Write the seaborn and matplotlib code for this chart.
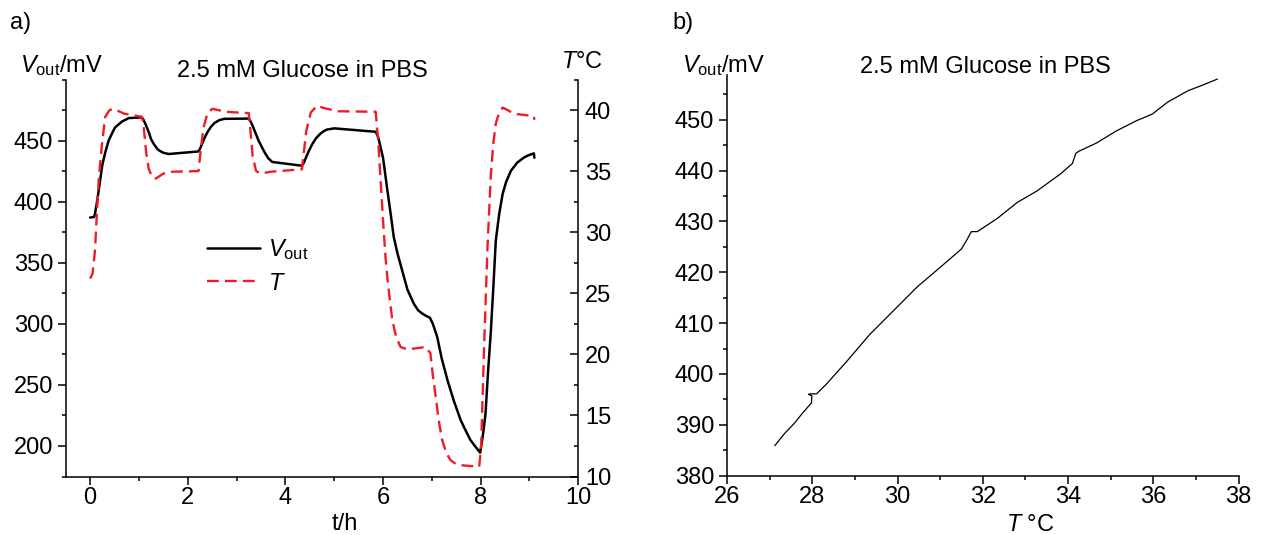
import matplotlib
matplotlib.use('Agg')
import matplotlib.pyplot as plt
from matplotlib.ticker import MultipleLocator
import pandas as pd
import seaborn as sns

# ---------------- data ----------------
# panel a, V_out over time
t_v = [0.0, 0.08, 0.1, 0.15, 0.2, 0.25, 0.31, 0.38, 0.45, 0.51, 0.65, 0.79, 1.06,
       1.1, 1.15, 1.2, 1.25, 1.3, 1.38, 1.43, 1.5, 1.61, 2.22, 2.26, 2.3, 2.36, 2.42, 2.48,
       2.55, 2.65, 2.75, 3.25, 3.29, 3.33, 3.39, 3.45, 3.52, 3.58, 3.65, 3.73, 4.34, 4.38,
       4.42, 4.48, 4.55, 4.62, 4.7, 4.78, 4.85, 5.0, 5.85, 5.9, 5.95, 6.0, 6.09, 6.15, 6.22,
       6.3, 6.43, 6.5, 6.63, 6.72, 6.8, 6.88, 6.96, 7.02, 7.11, 7.2, 7.32, 7.45, 7.59, 7.7,
       7.79, 7.9, 7.99, 8.05, 8.1, 8.15, 8.21, 8.26, 8.31, 8.38, 8.45, 8.52, 8.62, 8.75,
       8.89, 8.98, 9.09, 9.1]
v_out = [387, 387.5, 390, 402, 416, 430, 440.3, 450, 456, 460.7, 465.5, 468.4, 469,
         466.5, 462, 457, 451, 447.5, 443, 441.5, 440, 439, 441.1, 444, 448, 453.5, 458, 461.5,
         464.5, 466.8, 467.8, 468, 465.5, 462, 456, 450, 444.5, 440, 435.5, 432.5, 429.4, 432,
         436, 441.5, 447, 451.5, 455, 457.6, 459, 460, 457.2, 453, 444.4, 436, 409, 392, 371,
         357, 338.2, 328, 316.5, 311, 308.5, 306.5, 305, 300, 289.3, 272, 253.9, 237, 221.2, 212,
         204.9, 199, 194.5, 210, 226.7, 260, 294.7, 330, 368.2, 390, 406.3, 416, 425.3, 432,
         436.2, 438, 439.5, 436]

# panel a, temperature over time
t_T = [0.0, 0.05, 0.1, 0.14, 0.18, 0.24, 0.31, 0.4, 0.48, 0.7, 1.06, 1.1, 1.15, 1.2, 1.27,
       1.35, 1.5, 1.68, 2.22, 2.26, 2.32, 2.4, 2.5, 2.8, 3.25, 3.28, 3.33, 3.4, 3.5, 3.7,
       4.34, 4.37, 4.43, 4.52, 4.65, 4.8, 5.09, 5.85, 5.9, 5.95, 6.0, 6.05, 6.1, 6.19, 6.27,
       6.36, 6.5, 6.87, 6.97, 7.02, 7.08, 7.14, 7.21, 7.3, 7.38, 7.5, 7.66, 7.97, 8.01, 8.04,
       8.07, 8.14, 8.21, 8.26, 8.31, 8.38, 8.45, 8.55, 8.68, 9.09, 9.1]
temp = [26.2, 26.6, 28.5, 31.7, 34.5, 37.1, 39.45, 40.0, 40.1, 39.7, 39.45, 38.5, 36.5, 35.2,
        34.5, 34.4, 34.8, 34.95, 35.0, 36.5, 38.5, 39.7, 40.1, 39.85, 39.75, 38.5, 36.2, 35.0,
        34.8, 34.95, 35.15, 36.3, 38.3, 39.8, 40.35, 40.15, 39.9, 39.86, 37.5, 34.3, 31.0, 28.0,
        25.8, 22.8, 21.4, 20.6, 20.4, 20.6, 20.1, 18.3, 16.5, 14.6, 13.0, 11.9, 11.35, 11.0,
        10.9, 10.8, 12.45, 16.5, 20.6, 28.8, 34.8, 37.3, 38.9, 39.8, 40.2, 40.0, 39.7, 39.5,
        39.2]

# panel b, V_out against temperature
T_b = [27.12, 27.35, 27.58, 27.77, 27.98, 27.99, 27.91, 27.95, 28.1, 28.33, 28.8, 29.35,
       29.91, 30.47, 31.03, 31.5, 31.64, 31.73, 31.87, 32.34, 32.8, 33.27, 33.83, 34.1,
       34.18, 34.25, 34.66, 35.13, 35.6, 35.97, 36.34, 36.81, 37.18, 37.5]
V_b = [385.9, 388.3, 390.3, 392.3, 394.3, 395.7, 396.0, 396.1, 396.1, 398.0, 402.4, 407.8,
       412.5, 417.2, 421.2, 424.6, 426.6, 428.0, 428.0, 430.6, 433.7, 436.0, 439.4, 441.4,
       443.4, 443.8, 445.4, 447.8, 449.8, 451.1, 453.5, 455.7, 456.9, 458.0]

df_v = pd.DataFrame({'t': t_v, 'V': v_out})
df_T = pd.DataFrame({'t': t_T, 'T': temp})
df_b = pd.DataFrame({'T': T_b, 'V': V_b})

# ---------------- style ----------------
sns.set_theme(style='ticks')
plt.rcParams['font.family'] = ['Liberation Sans', 'DejaVu Sans']
plt.rcParams['mathtext.fontset'] = 'custom'
plt.rcParams['mathtext.rm'] = 'Liberation Sans'
plt.rcParams['mathtext.it'] = 'Liberation Sans:italic'
plt.rcParams['axes.linewidth'] = 1.1
plt.rcParams['text.color'] = 'black'
plt.rcParams['axes.labelcolor'] = 'black'
plt.rcParams['xtick.color'] = 'black'
plt.rcParams['ytick.color'] = 'black'
plt.rcParams['axes.edgecolor'] = 'black'

FS = 17
RED = '#ee1c24'
W, H = 1262, 535

fig = plt.figure(figsize=(W / 100, H / 100), dpi=100)
ax = fig.add_axes([65.7 / W, 1 - 476.5 / H, 512.6 / W, 397 / H])
axb = fig.add_axes([727 / W, 1 - 475.7 / H, 511.7 / W, 400.7 / H])

#-------------------------panel a-----------------#
sns.lineplot(data=df_v, x='t', y='V', color='black', lw=1.8, ax=ax, label=r'$V_{\rm out}$')
ax2 = ax.twinx()
sns.lineplot(data=df_T, x='t', y='T', color=RED, lw=1.7, ax=ax2, label=r'$T$')
ax2.lines[0].set_dashes((5, 2.6))

ax.set_xlim(-0.5, 10)
ax.set_ylim(175, 500)
ax2.set_ylim(10, 42.5)
ax.set_xlabel('')
ax.set_ylabel('')
ax2.set_ylabel('')

ax.xaxis.set_major_locator(MultipleLocator(2))
ax.xaxis.set_minor_locator(MultipleLocator(1))
ax.yaxis.set_minor_locator(MultipleLocator(25))
ax.set_yticks([200, 250, 300, 350, 400, 450])
ax2.yaxis.set_major_locator(MultipleLocator(5))
ax2.yaxis.set_minor_locator(MultipleLocator(2.5))

for a in (ax, ax2):
    a.spines['top'].set_visible(False)
ax.spines['right'].set_visible(False)
ax2.spines['left'].set_visible(False)
ax2.spines['bottom'].set_visible(False)

ax.tick_params(axis='both', which='major', direction='out', length=5.5, width=1.1,
               labelsize=FS)
ax.tick_params(axis='both', which='minor', direction='out', length=3, width=1.1)
ax.tick_params(axis='y', which='major', pad=3.6)
ax.tick_params(axis='x', which='major', pad=2)
ax2.tick_params(axis='y', which='major', direction='in', length=5.5, width=1.1,
                labelsize=FS, pad=4.8)
ax2.tick_params(axis='y', which='minor', direction='in', length=3, width=1.1)

# legend
h1, l1 = ax.get_legend_handles_labels()
h2, l2 = ax2.get_legend_handles_labels()
ax.get_legend().remove()
ax2.get_legend().remove()
ax2.legend(h1 + h2, l1 + l2, loc='upper left', bbox_to_anchor=(207 / W, 1 - 237 / H),
           bbox_transform=fig.transFigure, frameon=False, fontsize=FS, handlelength=2.25,
           handletextpad=0.35, borderpad=0, borderaxespad=0, labelspacing=0.45)

fig.text(10 / W, 1 - 12 / H, 'a)', fontsize=17, va='top', ha='left')
fig.text(302 / W, 1 - 77 / H, '2.5 mM Glucose in PBS', fontsize=FS, ha='center', va='baseline')
fig.text(20 / W, 1 - 72 / H, r'$V_{\rm out}$/mV', fontsize=FS, ha='left', va='baseline')
fig.text(561 / W, 1 - 68 / H, r'$T$°C', fontsize=FS, ha='left', va='baseline')
fig.text(345 / W, 1 - 530 / H, 't/h', fontsize=FS, ha='center', va='baseline')

#-------------------------panel b-----------------#
sns.lineplot(data=df_b, x='T', y='V', color='black', lw=0.9, sort=False, estimator=None, ax=axb)
axb.set_xlim(26, 38)
axb.set_ylim(380, 458.8)
axb.set_xlabel('')
axb.set_ylabel('')
axb.xaxis.set_major_locator(MultipleLocator(2))
axb.xaxis.set_minor_locator(MultipleLocator(1))
axb.yaxis.set_major_locator(MultipleLocator(10))
axb.yaxis.set_minor_locator(MultipleLocator(5))
axb.spines['top'].set_visible(False)
axb.spines['right'].set_visible(False)
axb.tick_params(axis='both', which='major', direction='out', length=5.5, width=1.1,
                labelsize=FS)
axb.tick_params(axis='both', which='minor', direction='out', length=3, width=1.1)
axb.tick_params(axis='y', which='major', pad=3.6)
axb.tick_params(axis='x', which='major', pad=2)

fig.text(672 / W, 1 - 12 / H, 'b)', fontsize=17, va='top', ha='left')
fig.text(985 / W, 1 - 73 / H, '2.5 mM Glucose in PBS', fontsize=FS, ha='center', va='baseline')
fig.text(682 / W, 1 - 72 / H, r'$V_{\rm out}$/mV', fontsize=FS, ha='left', va='baseline')
fig.text(1030 / W, 1 - 531 / H, r'$T$ °C', fontsize=FS, ha='center', va='baseline')

fig.savefig('out.png', dpi=100)
